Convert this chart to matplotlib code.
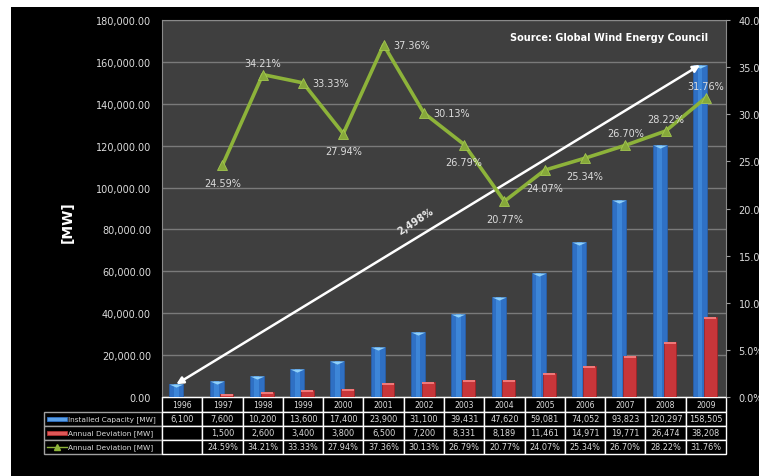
import matplotlib.pyplot as plt
from matplotlib.table import Table
from matplotlib.patches import Rectangle
from matplotlib.lines import Line2D
from matplotlib.ticker import FuncFormatter
import numpy as np

years = ['1996', '1997', '1998', '1999', '2000', '2001', '2002',
         '2003', '2004', '2005', '2006', '2007', '2008', '2009']
installed = [6100, 7600, 10200, 13600, 17400, 23900, 31100,
             39431, 47620, 59081, 74052, 93823, 120297, 158505]
deviation = [None, 1500, 2600, 3400, 3800, 6500, 7200,
             8331, 8189, 11461, 14971, 19771, 26474, 38208]
growth = [None, 24.59, 34.21, 33.33, 27.94, 37.36, 30.13,
          26.79, 20.77, 24.07, 25.34, 26.70, 28.22, 31.76]
cagr_label = '2,498%'

# where each percentage label sits relative to its marker
label_side = [None, 'below', 'above', 'right', 'below', 'right', 'right',
              'below', 'below', 'below', 'below', 'above', 'above', 'above']

BG = '#3f3f3f'
GRID = '#7a7a7a'
TXT = '#dcdcdc'
BLUE = '#2f70c4'
BLUE_CAP = '#8fd0f8'
RED = '#c8363a'
RED_CAP = '#f07878'
GREEN = '#8db33a'

W, H = 759, 477
fig = plt.figure(figsize=(W / 100, H / 100), dpi=100, facecolor='white')
fig.patches.append(Rectangle((11 / W, 0), 1 - 11 / W, 1 - 8 / H,
                             transform=fig.transFigure, facecolor='black',
                             edgecolor='none', zorder=-10))

left, right, top, bottom = 162, 726, 21, 398
ax = fig.add_axes([left / W, 1 - bottom / H, (right - left) / W, (bottom - top) / H])
ax.set_facecolor(BG)

x = np.arange(len(years))
dev_x = [i for i, v in enumerate(deviation) if v is not None]
dev_v = [v for v in deviation if v is not None]

# columns: blue installed capacity, red yearly increase slightly overlapping
ax.bar(x - 0.145, installed, width=0.35, color=BLUE, edgecolor='#2a5fa8',
       linewidth=0.6, zorder=3)
ax.bar(x - 0.145, installed, width=0.12, color='#3d86d8', zorder=3)
ax.bar(np.array(dev_x) + 0.11, dev_v, width=0.32, color=RED, edgecolor='#9e2428',
       linewidth=0.6, zorder=4)

cap_blue = [(-1, 0), (1, 0), (0, -0.45)]
cap_red = [(-1, 0), (1, 0), (1, -0.3), (-1, -0.3)]
ax.scatter(x - 0.145, installed, marker=cap_blue, s=100, color=BLUE_CAP,
           linewidths=0, zorder=5)
ax.scatter(np.array(dev_x) + 0.11, dev_v, marker=cap_red, s=85, color=RED_CAP,
           linewidths=0, zorder=5)

ax.set_xlim(-0.5, len(years) - 0.5)
ax.set_ylim(0, 180000)
ax.set_yticks(np.arange(0, 180001, 20000))
ax.yaxis.set_major_formatter(FuncFormatter(lambda v, p: f'{v:,.2f}'))
ax.tick_params(axis='y', length=0, pad=8, labelsize=7, labelcolor=TXT)
ax.set_xticks([])
ax.yaxis.grid(True, color=GRID, linewidth=1, zorder=0)
ax.set_axisbelow(True)
for side in ['left', 'top', 'right']:
    ax.spines[side].set_color('#8a8a8a')
ax.spines['bottom'].set_color('white')

# overall growth arrow between the first and last installed bars
ax.annotate('', xy=(13 - 0.145, installed[-1]), xytext=(0 - 0.145, installed[0]),
            arrowprops=dict(arrowstyle='<|-|>', color='white', lw=1.8,
                            mutation_scale=10, shrinkA=0, shrinkB=0), zorder=6)
ax.text(5.8, 84000, cagr_label, color='#e8e8e8', fontsize=7, fontweight='bold',
        rotation=33, ha='center', va='center', zorder=6)

# growth percentage on the right axis
ax2 = ax.twinx()
gx = [i for i, v in enumerate(growth) if v is not None]
gv = [v for v in growth if v is not None]
ax2.plot(gx, gv, color=GREEN, linewidth=2.6, marker='^', markersize=7,
         markerfacecolor='#86a83a', markeredgecolor='#a4c850', markeredgewidth=0.6,
         zorder=7)
ax2.set_ylim(0, 40)
ax2.set_yticks(np.arange(0, 40.1, 5))
ax2.yaxis.set_major_formatter(FuncFormatter(lambda v, p: f'{v:.1f}%'))
ax2.tick_params(axis='y', length=3, width=0.8, color='#9a9a9a', pad=6,
                labelsize=7, labelcolor=TXT)
for s in ax2.spines.values():
    s.set_visible(False)

offsets = {'below': (0, -9, 'center', 'top'),
           'above': (0, 5, 'center', 'bottom'),
           'right': (7, 0, 'left', 'center')}
for i, v in enumerate(growth):
    if v is None:
        continue
    dx, dy, ha, va = offsets[label_side[i]]
    ax2.annotate(f'{v:.2f}%', (i, v), xytext=(dx, dy), textcoords='offset points',
                 ha=ha, va=va, fontsize=7, color=TXT, zorder=8)

fig.text(708 / W, 1 - 38 / H, 'Source: Global Wind Energy Council', color='white',
         fontsize=7, fontweight='bold', ha='right', va='center')
fig.text(68 / W, 1 - 222 / H, '[MW]', color='white', fontsize=10,
         fontweight='bold', rotation=90, ha='center', va='center')

# data table under the plot; the bbox covers only the year columns,
# the label column hangs off to the left of it
pw, ph = right - left, bottom - top
lab_w = 118 / pw
col_w = 1 / len(years)
hdr_h = 15 / ph
row_h = 14 / ph
row_names = ['Installed Capacity [MW]', 'Annual Deviation [MW]', 'Annual Deviation [MW]']
rows = [[f'{v:,}' for v in installed],
        ['' if v is None else f'{v:,}' for v in deviation],
        ['' if v is None else f'{v:.2f}%' for v in growth]]

tab = Table(ax, bbox=[0, -(hdr_h + 3 * row_h), 1, hdr_h + 3 * row_h])
for j, yr in enumerate(years):
    tab.add_cell(0, j, width=col_w, height=hdr_h, text=yr, loc='center',
                 facecolor='black', edgecolor='white')
for r, (name, vals) in enumerate(zip(row_names, rows), start=1):
    c = tab.add_cell(r, -1, width=lab_w, height=row_h, text=name, loc='left',
                     facecolor='black', edgecolor='#a0a0a0')
    c.PAD = 24 / 118
    for j, t in enumerate(vals):
        tab.add_cell(r, j, width=col_w, height=row_h, text=t, loc='center',
                     facecolor='black', edgecolor='white')
tab.auto_set_font_size(False)
for (r, cidx), cell in tab.get_celld().items():
    cell.get_text().set_color(TXT)
    cell.set_linewidth(1)
    if cidx == -1:
        cell.get_text().set_fontsize(5.3)
    elif r == 0:
        cell.get_text().set_fontsize(5.6)
    else:
        cell.get_text().set_fontsize(5.9)
ax.add_table(tab)

# legend keys inside the row label cells
kx0, kx1 = (47 - left) / pw, (67 - left) / pw
key_y = [(bottom - 420) / ph, (bottom - 434) / ph, (bottom - 448) / ph]
ax.add_patch(Rectangle((kx0, key_y[0] - 2 / ph), kx1 - kx0, 4 / ph,
                       transform=ax.transAxes, facecolor='#5aa0e8',
                       edgecolor='#2f70c4', linewidth=0.6, clip_on=False))
ax.add_patch(Rectangle((kx0, key_y[1] - 2 / ph), kx1 - kx0, 4 / ph,
                       transform=ax.transAxes, facecolor='#e05858',
                       edgecolor='#b03030', linewidth=0.6, clip_on=False))
ax.add_line(Line2D([kx0, kx1], [key_y[2], key_y[2]], transform=ax.transAxes,
                   color=GREEN, linewidth=1, clip_on=False))
ax.add_line(Line2D([(kx0 + kx1) / 2], [key_y[2]], transform=ax.transAxes,
                   color=GREEN, marker='^', markersize=5, linestyle='none',
                   clip_on=False))

plt.savefig('out.png', dpi=100, facecolor=fig.get_facecolor())
plt.close()
